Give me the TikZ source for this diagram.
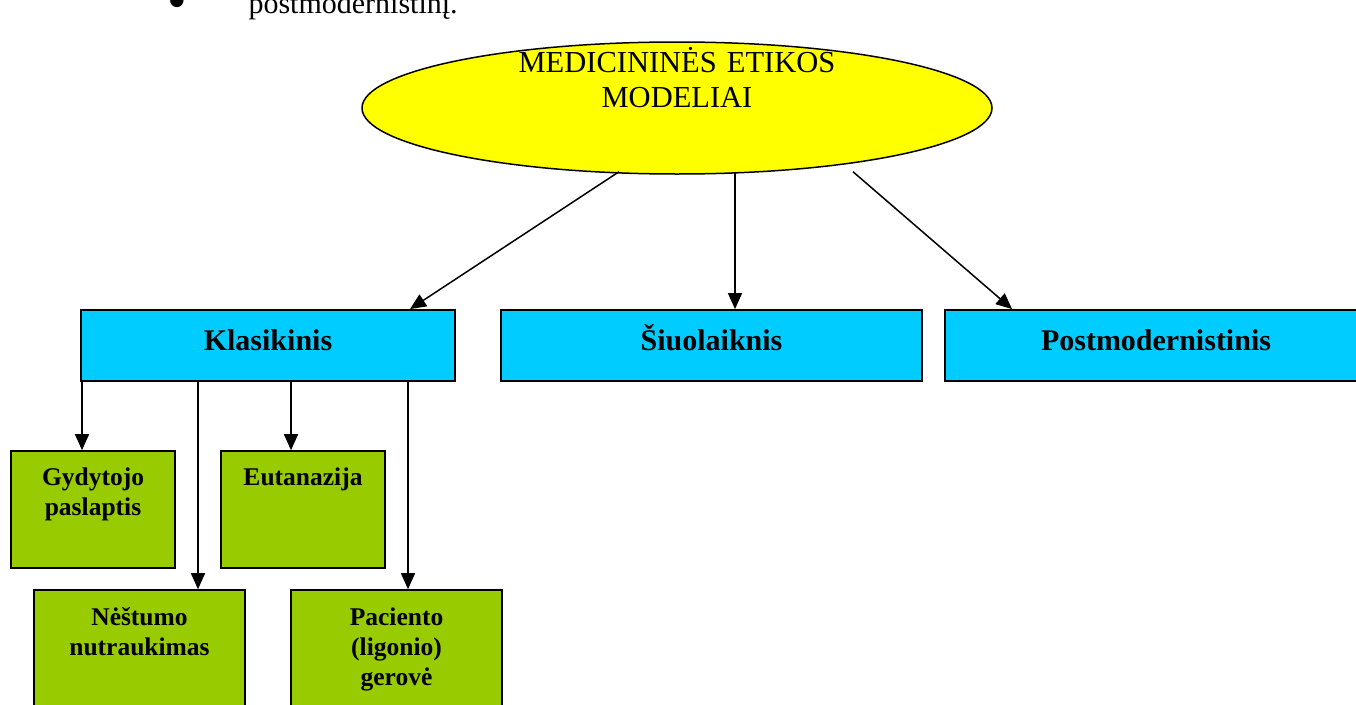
\documentclass[tikz,border=0pt]{standalone}
\usepackage{fontspec}
\setmainfont{Liberation Serif}
\usetikzlibrary{shapes.geometric,arrows.meta}
\definecolor{ovalfill}{HTML}{FFFF00}
\definecolor{modelfill}{HTML}{00CCFF}
\definecolor{topicfill}{HTML}{99CC00}
\begin{document}
\begin{tikzpicture}[x=1pt,y=-1pt,
  oval/.style={ellipse, draw, line width=1.5pt, fill=ovalfill, inner sep=0pt,
    minimum width=630pt, minimum height=132pt, text width=340pt, align=center,
    font=\fontsize{30.5}{35}\selectfont, text height=10pt, text depth=82pt},
  model/.style={rectangle, draw, line width=1.8pt, fill=modelfill, inner sep=0pt,
    minimum height=71pt, text height=40pt, text depth=31pt,
    font=\fontsize{30}{35}\selectfont\bfseries},
  topic/.style={rectangle, draw, line width=1.6pt, fill=topicfill, inner sep=0pt,
    align=center, font=\fontsize{25.5}{30}\selectfont\bfseries},
  uppertopic/.style={topic, text width=164pt, text height=34pt, text depth=83pt},
  lowertopic/.style={topic, text width=211pt, text height=35pt, text depth=115pt},
  arr/.style={line width=1.5pt, -{Triangle[length=16pt,width=14pt]}},
  listtext/.style={font=\fontsize{30}{35}\selectfont}
]
\useasboundingbox (0,0) rectangle (1356,704);
\clip (0,0) rectangle (1356,704);

% last item of the list above
\node[font=\fontsize{56}{60}\selectfont, anchor=base] (bullet) at (177,19) {•};
\node[listtext, anchor=base west] (item) at (245,13) {postmodernistinį.};

% top oval
\node[oval] (ell) at (677,108) {MEDICININĖS ETIKOS\\MODELIAI};

% three models
\node[model, minimum width=374pt] (kl) at (268,345.5) {Klasikinis};
\node[model, minimum width=421pt] (si) at (711.5,345.5) {Šiuolaiknis};
\node[model, minimum width=422pt] (pm) at (1156,345.5) {Postmodernistinis};

% topics of the classical model
\node[uppertopic] (gyd) at (93,509.5) {Gydytojo\\paslaptis};
\node[uppertopic] (eut) at (303,509.5) {Eutanazija};
\node[lowertopic] (nes) at (139.5,665) {Nėštumo\\nutraukimas};
\node[lowertopic] (pac) at (396.5,665) {Paciento\\(ligonio)\\gerovė};

% connectors from the oval
\draw[arr] ([shift={(-58pt,3pt)}]ell.south) -- ([xshift=142pt]kl.north);
\draw[arr] ([shift={(58pt,3pt)}]ell.south) -- ([xshift=23.5pt]si.north);
\draw[arr] ([shift={(176pt,3pt)}]ell.south) -- ([xshift=68pt]pm.north west);

% connectors from the classical model
\draw[arr] ([xshift=-186pt]kl.south) -- ([xshift=-186pt]kl.south |- gyd.north);
\draw[arr] ([xshift=-70pt]kl.south) -- ([xshift=-70pt]kl.south |- nes.north);
\draw[arr] ([xshift=23pt]kl.south) -- ([xshift=23pt]kl.south |- eut.north);
\draw[arr] ([xshift=140pt]kl.south) -- ([xshift=140pt]kl.south |- pac.north);
\end{tikzpicture}
\end{document}
